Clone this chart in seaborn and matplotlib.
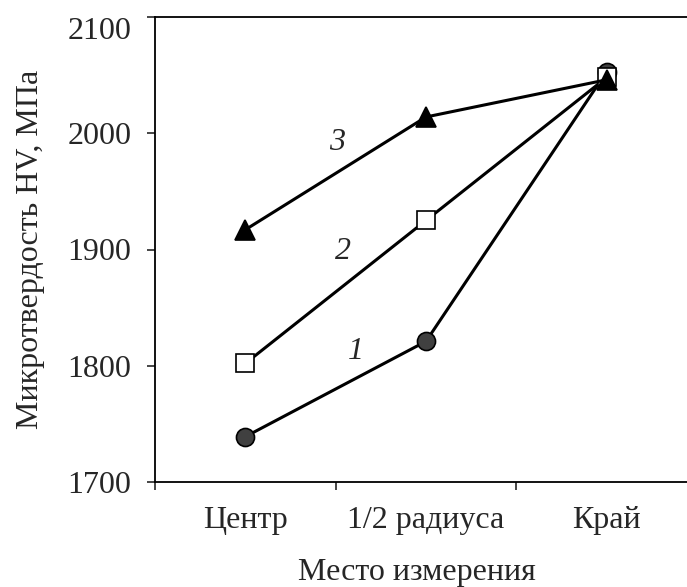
import matplotlib
matplotlib.use("Agg")
import matplotlib.pyplot as plt
import matplotlib.transforms as mtransforms
import seaborn as sns
import pandas as pd

categories = ["Центр", "1/2 радиуса", "Край"]
series1 = [1739, 1821, 2053]
series2 = [1802, 1925, 2048]
series3 = [1917, 2014, 2046]
curve_labels = ["1", "2", "3"]
label_pos = [(0.61, 1812), (0.54, 1898), (0.505, 1992)]

sns.set_theme(style="white")
plt.rcParams["font.family"] = ["Liberation Serif", "DejaVu Serif"]

fig = plt.figure(figsize=(6.87, 5.87), dpi=100)
ax = fig.add_axes([155 / 687, 1 - 482 / 587, (697 - 155) / 687, (482 - 17) / 587])

styles = [
    dict(marker="o", markersize=13, markerfacecolor="#404040", markeredgecolor="black"),
    dict(marker="s", markersize=13, markerfacecolor="white", markeredgecolor="black"),
    dict(marker="^", markersize=15, markerfacecolor="black", markeredgecolor="black"),
]
for vals, st in zip([series1, series2, series3], styles):
    df = pd.DataFrame({"x": categories, "y": vals})
    sns.lineplot(data=df, x="x", y="y", sort=False, color="black", linewidth=2.2,
                 markeredgewidth=1.2, ax=ax, **st)

for lab, (x, y) in zip(curve_labels, label_pos):
    ax.text(x, y, lab, fontsize=23, style="italic", ha="center", va="center")

ax.set_xlim(-0.5, 2.5)
ax.set_ylim(1700, 2100)
ax.set_yticks([1700, 1800, 1900, 2000, 2100])
ax.set_xticks([0, 1, 2])
ax.set_xticklabels(categories)
ax.set_xticks([-0.5, 0.5, 1.5], minor=True)
ax.tick_params(axis="x", which="major", length=0, pad=17, labelsize=23)
ax.tick_params(axis="x", which="minor", length=6, width=1.2, direction="out", bottom=True)
ax.tick_params(axis="y", length=6, width=1.2, direction="out", left=True, pad=11, labelsize=23)
for sp in ax.spines.values():
    sp.set_linewidth(1.3)
    sp.set_color("black")
ax.set_xlabel("Место измерения", fontsize=23, labelpad=17, x=0.483)
ax.set_ylabel("Микротвердость HV, МПа", fontsize=23, labelpad=16)

top_label = ax.get_yticklabels()[-1]
top_label.set_transform(top_label.get_transform() +
                        mtransforms.ScaledTranslation(0, -8 / 72, fig.dpi_scale_trans))

fig.savefig("out.png", dpi=100)
